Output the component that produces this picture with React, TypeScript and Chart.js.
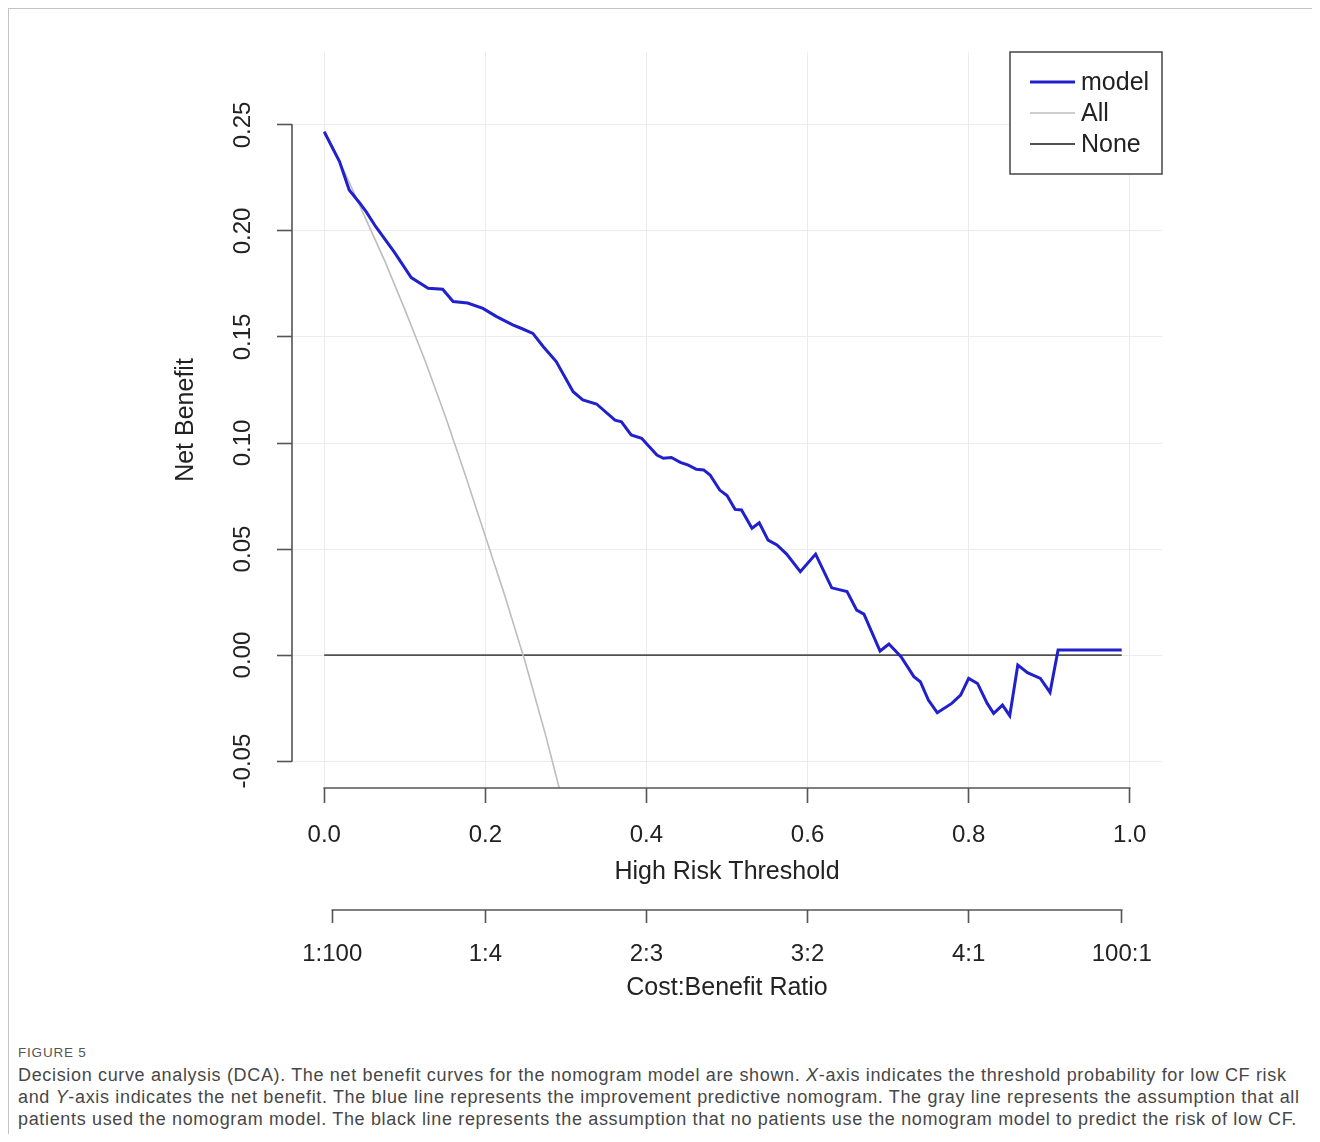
import React, { useEffect, useRef } from "react";
import { Chart, registerables } from "chart.js";

Chart.register(...registerables);

const FONT = "'Liberation Sans', Arial, Helvetica, sans-serif";

// ---- data ----
const seriesLabels = ["model", "All", "None"];

const modelThresholds = [
  0.0, 0.019, 0.031, 0.044, 0.052, 0.064, 0.087, 0.108, 0.129, 0.147, 0.16, 0.178, 0.197, 0.214,
  0.234, 0.245, 0.259, 0.272, 0.288, 0.309, 0.321, 0.338, 0.361, 0.369, 0.381, 0.394, 0.413, 0.421,
  0.431, 0.442, 0.452, 0.462, 0.471, 0.479, 0.491, 0.5, 0.51, 0.518, 0.531, 0.54, 0.551, 0.562,
  0.574, 0.591, 0.61, 0.63, 0.649, 0.661, 0.67, 0.69, 0.701, 0.716, 0.732, 0.74, 0.75, 0.761,
  0.779, 0.79, 0.8, 0.811, 0.823, 0.831, 0.842, 0.851, 0.861, 0.873, 0.889, 0.901, 0.911, 0.99,
];
const modelNetBenefit = [
  0.2468, 0.2327, 0.2193, 0.2132, 0.2091, 0.202, 0.19, 0.178, 0.173, 0.1725, 0.1667, 0.166, 0.1635,
  0.1596, 0.1557, 0.154, 0.1517, 0.1454, 0.1384, 0.1242, 0.1203, 0.1184, 0.1108, 0.11, 0.1038,
  0.1022, 0.0943, 0.0928, 0.0932, 0.0909, 0.0896, 0.0876, 0.0873, 0.0849, 0.0778, 0.0752, 0.0687,
  0.0684, 0.0598, 0.0624, 0.0542, 0.0519, 0.0476, 0.0393, 0.0476, 0.0317, 0.0299, 0.0212, 0.0193,
  0.0019, 0.0052, -0.0008, -0.0102, -0.0126, -0.0212, -0.0272, -0.0228, -0.0189, -0.011, -0.0134,
  -0.0228, -0.0275, -0.0236, -0.0286, -0.0047, -0.0083, -0.011, -0.0176, 0.0024, 0.0024,
];

const allThresholds = [0, 0.025, 0.05, 0.075, 0.1, 0.125, 0.15, 0.175, 0.2, 0.225, 0.25, 0.275, 0.3];
const allNetBenefit = [
  0.247, 0.228, 0.207, 0.186, 0.163, 0.139, 0.113, 0.085, 0.056, 0.027, -0.004, -0.038, -0.075,
];

const noneThresholds = [0, 0.99];
const noneNetBenefit = [0, 0];

const xTickValues = [0, 0.2, 0.4, 0.6, 0.8, 1.0];
const xTickLabels = ["0.0", "0.2", "0.4", "0.6", "0.8", "1.0"];
const yTickValues = [-0.05, 0, 0.05, 0.1, 0.15, 0.2, 0.25];
const yTickLabels = ["-0.05", "0.00", "0.05", "0.10", "0.15", "0.20", "0.25"];
const ratioTickValues = [0.01, 0.2, 0.4, 0.6, 0.8, 0.99];
const ratioTickLabels = ["1:100", "1:4", "2:3", "3:2", "4:1", "100:1"];

const xTitle = "High Risk Threshold";
const yTitle = "Net Benefit";
const ratioTitle = "Cost:Benefit Ratio";

// ---- styles ----
const MODEL_COLOR = "#2020cc";
const ALL_COLOR = "#bdbdbd";
const NONE_COLOR = "#505050";
const AXIS_COLOR = "#555555";
const GRID_COLOR = "#ececec";
const TEXT_COLOR = "#222222";

const rStylePlugin = {
  id: "rStyle",
  afterDraw(chart: any) {
    const { ctx, chartArea, scales } = chart;
    const x = scales.x;
    const y = scales.y;
    const x2 = scales.x2;
    ctx.save();
    ctx.strokeStyle = AXIS_COLOR;
    ctx.lineWidth = 1.6;
    ctx.lineCap = "square";
    ctx.beginPath();
    ctx.moveTo(chartArea.left, y.getPixelForValue(yTickValues[0]));
    ctx.lineTo(chartArea.left, y.getPixelForValue(yTickValues[yTickValues.length - 1]));
    ctx.moveTo(x.getPixelForValue(xTickValues[0]), chartArea.bottom);
    ctx.lineTo(x.getPixelForValue(xTickValues[xTickValues.length - 1]), chartArea.bottom);
    ctx.moveTo(x2.getPixelForValue(ratioTickValues[0]), x2.top);
    ctx.lineTo(x2.getPixelForValue(ratioTickValues[ratioTickValues.length - 1]), x2.top);
    ctx.stroke();

    // legend box (top-right of plot region, R style)
    const w = 152;
    const h = 122;
    const x0 = chartArea.right - w;
    const y0 = chartArea.top;
    ctx.fillStyle = "#ffffff";
    ctx.fillRect(x0, y0, w, h);
    ctx.strokeStyle = "#444444";
    ctx.lineWidth = 1.5;
    ctx.lineCap = "butt";
    ctx.strokeRect(x0, y0, w, h);
    ctx.font = `25px ${FONT}`;
    ctx.textBaseline = "middle";
    ctx.textAlign = "left";
    chart.data.datasets.forEach((ds: any, i: number) => {
      const yy = y0 + 30 + i * 31;
      ctx.strokeStyle = ds.borderColor;
      ctx.lineWidth = ds.borderWidth;
      ctx.beginPath();
      ctx.moveTo(x0 + 20, yy);
      ctx.lineTo(x0 + 65, yy);
      ctx.stroke();
      ctx.fillStyle = TEXT_COLOR;
      ctx.fillText(ds.label, x0 + 71, yy + 1);
    });
    ctx.restore();
  },
};

function toPoints(xs: number[], ys: number[]) {
  return xs.map((v, i) => ({ x: v, y: ys[i] }));
}

function DcaChart() {
  const ref = useRef<HTMLCanvasElement | null>(null);

  useEffect(() => {
    if (!ref.current) return;
    const tickFont = { family: FONT, size: 24 };
    const titleFont = { family: FONT, size: 25 };
    const chart = new Chart(ref.current, {
      type: "line",
      data: {
        datasets: [
          {
            label: seriesLabels[0],
            data: toPoints(modelThresholds, modelNetBenefit),
            borderColor: MODEL_COLOR,
            borderWidth: 3,
            pointRadius: 0,
            tension: 0,
            xAxisID: "x",
            yAxisID: "y",
          },
          {
            label: seriesLabels[1],
            data: toPoints(allThresholds, allNetBenefit),
            borderColor: ALL_COLOR,
            borderWidth: 1.6,
            pointRadius: 0,
            tension: 0,
            xAxisID: "x",
            yAxisID: "y",
          },
          {
            label: seriesLabels[2],
            data: toPoints(noneThresholds, noneNetBenefit),
            borderColor: NONE_COLOR,
            borderWidth: 1.8,
            pointRadius: 0,
            tension: 0,
            xAxisID: "x",
            yAxisID: "y",
          },
        ],
      },
      options: {
        responsive: false,
        animation: false,
        events: [],
        layout: { padding: { top: 43, right: 150, bottom: 0, left: 0 } },
        plugins: {
          legend: { display: false },
          tooltip: { enabled: false },
        },
        scales: {
          x: {
            type: "linear",
            axis: "x",
            position: "bottom",
            weight: 0,
            min: -0.04,
            max: 1.04,
            afterBuildTicks: (s: any) => {
              s.ticks = xTickValues.map((v) => ({ value: v }));
            },
            afterFit: (s: any) => {
              s.height = 122;
            },
            border: { display: false },
            grid: {
              color: GRID_COLOR,
              lineWidth: 1,
              drawTicks: true,
              tickLength: 15,
              tickColor: AXIS_COLOR,
              tickWidth: 1.6,
            },
            ticks: {
              autoSkip: false,
              maxRotation: 0,
              padding: 17.6,
              color: TEXT_COLOR,
              font: tickFont,
              callback: (_v: any, i: number) => xTickLabels[i],
            },
            title: {
              display: true,
              text: xTitle,
              color: TEXT_COLOR,
              font: titleFont,
              padding: { top: 0, bottom: 23 },
            },
          },
          x2: {
            type: "linear",
            axis: "x",
            position: "bottom",
            weight: 1,
            min: -0.04,
            max: 1.04,
            afterBuildTicks: (s: any) => {
              s.ticks = ratioTickValues.map((v) => ({ value: v }));
            },
            afterFit: (s: any) => {
              s.height = 110;
            },
            border: { display: false },
            grid: {
              drawOnChartArea: false,
              drawTicks: true,
              tickLength: 13,
              tickColor: AXIS_COLOR,
              tickWidth: 1.6,
            },
            ticks: {
              autoSkip: false,
              maxRotation: 0,
              padding: 16.6,
              color: TEXT_COLOR,
              font: tickFont,
              callback: (_v: any, i: number) => ratioTickLabels[i],
            },
            title: {
              display: true,
              text: ratioTitle,
              color: TEXT_COLOR,
              font: titleFont,
              padding: { top: 0, bottom: 17 },
            },
          },
          y: {
            type: "linear",
            axis: "y",
            position: "left",
            min: -0.0627,
            max: 0.2844,
            afterBuildTicks: (s: any) => {
              s.ticks = yTickValues.map((v) => ({ value: v }));
            },
            afterFit: (s: any) => {
              s.width = 283;
            },
            border: { display: false },
            grid: {
              color: GRID_COLOR,
              lineWidth: 1,
              drawTicks: true,
              tickLength: 15,
              tickColor: AXIS_COLOR,
              tickWidth: 1.6,
            },
            ticks: {
              autoSkip: false,
              minRotation: 90,
              maxRotation: 90,
              crossAlign: "center",
              padding: 6.6,
              color: TEXT_COLOR,
              font: tickFont,
              callback: (_v: any, i: number) => yTickLabels[i],
            },
            title: {
              display: true,
              text: yTitle,
              color: TEXT_COLOR,
              font: titleFont,
              padding: { top: 162, bottom: 0 },
            },
          },
        },
      } as any,
      plugins: [rStylePlugin],
    });
    return () => chart.destroy();
  }, []);

  return (
    <canvas
      ref={ref}
      width={1303}
      height={1011}
      style={{ display: "block", width: 1303, height: 1011 }}
    />
  );
}

export default function App() {
  return (
    <div
      style={{
        borderTop: "1px solid #c4c4c4",
        borderLeft: "1px solid #c4c4c4",
        height: 1126,
        boxSizing: "border-box",
        overflow: "hidden",
        background: "#fff",
      }}
    >
      <DcaChart />
      <div style={{ paddingLeft: 9, fontFamily: FONT }}>
        <div
          style={{
            marginTop: 25,
            fontSize: 13.5,
            lineHeight: "16px",
            color: "#555",
            letterSpacing: 0.8,
          }}
        >
          FIGURE 5
        </div>
        <div
          style={{
            marginTop: 3,
            fontSize: 18,
            lineHeight: "22px",
            color: "#474747",
            whiteSpace: "nowrap",
            letterSpacing: 0.66,
          }}
        >
          Decision curve analysis (DCA). The net benefit curves for the nomogram model are shown.{" "}
          <i>X</i>-axis indicates the threshold probability for low CF risk
          <br />
          and <i>Y</i>-axis indicates the net benefit. The blue line represents the improvement
          predictive nomogram. The gray line represents the assumption that all
          <br />
          patients used the nomogram model. The black line represents the assumption that no
          patients use the nomogram model to predict the risk of low CF.
        </div>
      </div>
    </div>
  );
}
